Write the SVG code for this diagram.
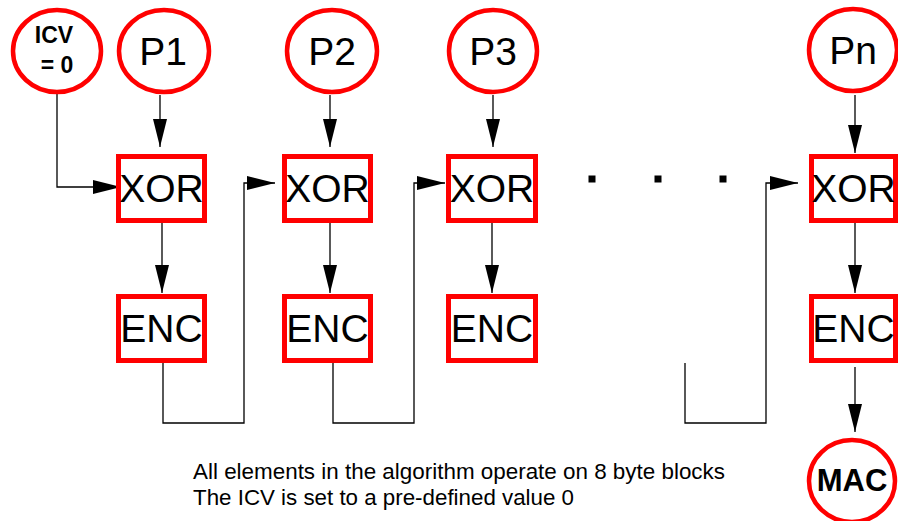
<svg xmlns="http://www.w3.org/2000/svg" width="898" height="521" viewBox="0 0 898 521">
<style>
.ell{fill:#fff;stroke:#f00;stroke-width:4.5}
.box{fill:#fff;stroke:#f00;stroke-width:5}
.lbl{font-family:"Liberation Sans",Arial,sans-serif;font-size:39px;fill:#000;text-anchor:middle}
.bold{font-family:"Liberation Sans",Arial,sans-serif;font-weight:bold;fill:#000;text-anchor:middle}
.con{fill:none;stroke:#000;stroke-width:1.3}
.note{font-family:"Liberation Sans",Arial,sans-serif;font-size:22px;fill:#000}
</style>
<defs>
<marker id="ah" markerUnits="userSpaceOnUse" markerWidth="29" markerHeight="15" refX="28" refY="7" orient="auto">
<path d="M0,0 L28,7 L0,14 z" fill="#000"/>
</marker>
</defs>
<rect width="898" height="521" fill="#fff"/>
<g id="connectors">
<polyline class="con" points="57,93 57,187 121,187" marker-end="url(#ah)"/>
<line class="con" x1="160" y1="95" x2="160" y2="147" marker-end="url(#ah)"/>
<line class="con" x1="162" y1="223" x2="162" y2="293" marker-end="url(#ah)"/>
<polyline class="con" points="163,363 163,423 244,423 244,183 275,183" marker-end="url(#ah)"/>
<line class="con" x1="330" y1="95" x2="330" y2="147" marker-end="url(#ah)"/>
<line class="con" x1="330" y1="223" x2="330" y2="293" marker-end="url(#ah)"/>
<polyline class="con" points="333,363 333,423 414,423 414,183 445,183" marker-end="url(#ah)"/>
<line class="con" x1="493" y1="95" x2="493" y2="147" marker-end="url(#ah)"/>
<line class="con" x1="492" y1="223" x2="492" y2="293" marker-end="url(#ah)"/>
<polyline class="con" points="685,363 685,423 766,423 766,183 798,183" marker-end="url(#ah)"/>
<line class="con" x1="855" y1="95" x2="855" y2="153" marker-end="url(#ah)"/>
<line class="con" x1="855" y1="223" x2="855" y2="293" marker-end="url(#ah)"/>
<line class="con" x1="855" y1="367" x2="855" y2="432" marker-end="url(#ah)"/>
</g>
<g id="icv"><ellipse class="ell" cx="57" cy="51" rx="44" ry="41"/>
<text class="bold" x="54" y="43" font-size="23">ICV</text>
<text class="bold" x="57" y="73" font-size="23">= 0</text></g>
<g id="p1"><ellipse class="ell" cx="164" cy="51" rx="45" ry="41"/><text class="lbl" x="163" y="65">P1</text></g>
<g id="p2"><ellipse class="ell" cx="332" cy="51" rx="45" ry="41"/><text class="lbl" x="332" y="65">P2</text></g>
<g id="p3"><ellipse class="ell" cx="493" cy="51" rx="44" ry="41"/><text class="lbl" x="493" y="65">P3</text></g>
<g id="pn"><ellipse class="ell" cx="853" cy="50" rx="44" ry="41"/><text class="lbl" x="853" y="64">Pn</text></g>
<g id="xor1"><rect class="box" x="118.5" y="156.5" width="86" height="64"/><text class="lbl" x="161.5" y="202">XOR</text></g>
<g id="xor2"><rect class="box" x="284.5" y="156.5" width="86" height="64"/><text class="lbl" x="327.5" y="202">XOR</text></g>
<g id="xor3"><rect class="box" x="448.5" y="156.5" width="87" height="64"/><text class="lbl" x="492" y="202">XOR</text></g>
<g id="xorn"><rect class="box" x="811.5" y="156.5" width="84" height="64"/><text class="lbl" x="853.5" y="202">XOR</text></g>
<g id="enc1"><rect class="box" x="118.5" y="296.5" width="86" height="64"/><text class="lbl" x="161.5" y="342">ENC</text></g>
<g id="enc2"><rect class="box" x="284.5" y="296.5" width="86" height="64"/><text class="lbl" x="327.5" y="342">ENC</text></g>
<g id="enc3"><rect class="box" x="448.5" y="296.5" width="87" height="64"/><text class="lbl" x="492" y="342">ENC</text></g>
<g id="encn"><rect class="box" x="811.5" y="296.5" width="84" height="64"/><text class="lbl" x="853.5" y="342">ENC</text></g>
<g id="mac"><ellipse class="ell" cx="852" cy="481" rx="43" ry="41"/><text class="bold" x="852" y="491" font-size="31">MAC</text></g>
<g id="dots" fill="#000">
<rect x="588.5" y="175.5" width="7" height="7"/>
<rect x="654.5" y="175.5" width="7" height="7"/>
<rect x="719.5" y="175.5" width="7" height="7"/>
</g>
<g id="notes">
<text class="note" x="193" y="479" textLength="532" lengthAdjust="spacingAndGlyphs">All elements in the algorithm operate on 8 byte blocks</text>
<text class="note" x="193" y="505" textLength="381" lengthAdjust="spacingAndGlyphs">The ICV is set to a pre-defined value 0</text>
</g>
</svg>
